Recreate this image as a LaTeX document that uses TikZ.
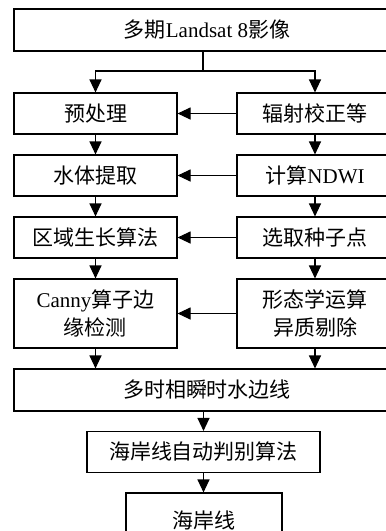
\documentclass[tikz,border=0pt]{standalone}
\usepackage{fontspec}
\setmainfont{Liberation Serif}
\newfontfamily\cjk{Noto Sans CJK SC}
\usetikzlibrary{arrows.meta}
\tikzset{
  box/.style={draw=black, line width=1.1pt, inner sep=0pt, align=center,
    font=\fontsize{21}{28}\selectfont\cjk},
  arr/.style={line width=1.1pt, -{Triangle[length=13pt,width=12pt]}},
  ln/.style={line width=1.1pt}
}
\begin{document}
\begin{tikzpicture}[x=1pt,y=-1pt]
\useasboundingbox (0,0) rectangle (386,531);
\clip (0,0) rectangle (386,531);
\node[box, minimum width=386pt, minimum height=42pt] (top) at (207,30) {多期{\rmfamily Landsat 8}影像};
\node[box, minimum width=163pt, minimum height=41pt] (l1) at (95.5,113.5) {预处理};
\node[box, minimum width=156pt, minimum height=41pt] (r1) at (315,113.5) {辐射校正等};
\node[box, minimum width=163pt, minimum height=41pt] (l2) at (95.5,175.5) {水体提取};
\node[box, minimum width=156pt, minimum height=41pt] (r2) at (315,175.5) {计算{\rmfamily NDWI}};
\node[box, minimum width=163pt, minimum height=41pt] (l3) at (95.5,237.5) {区域生长算法};
\node[box, minimum width=156pt, minimum height=41pt] (r3) at (315,237.5) {选取种子点};
\node[box, minimum width=163pt, minimum height=69pt] (l4) at (95.5,313.5) {{\rmfamily Canny}算子边\\缘检测};
\node[box, minimum width=156pt, minimum height=69pt] (r4) at (315,313.5) {形态学运算\\异质剔除};
\node[box, minimum width=386pt, minimum height=42pt] (multi) at (207,390) {多时相瞬时水边线};
\node[box, minimum width=233pt, minimum height=41pt] (auto) at (203.5,452) {海岸线自动判别算法};
\node[box, minimum width=156pt, minimum height=54pt] (coast) at (204,520) {海岸线};
\coordinate (split) at (203,71);
\draw[ln] (top.south -| split) -- (split);
\draw[arr] (split) -| (l1.north);
\draw[arr] (split) -| (r1.north);
\draw[arr] (r1.west) -- (l1.east);
\draw[arr] (r2.west) -- (l2.east);
\draw[arr] (r3.west) -- (l3.east);
\draw[arr] (r4.west) -- (l4.east);
\draw[arr] (l1.south) -- (l2.north);
\draw[arr] (l2.south) -- (l3.north);
\draw[arr] (l3.south) -- (l4.north);
\draw[arr] (r1.south) -- (r2.north);
\draw[arr] (r2.south) -- (r3.north);
\draw[arr] (r3.south) -- (r4.north);
\draw[arr] (l4.south) -- (l4.south |- multi.north);
\draw[arr] (r4.south) -- (r4.south |- multi.north);
\draw[arr] (multi.south -| auto) -- (auto.north);
\draw[arr] (auto.south) -- (auto.south |- coast.north);
\end{tikzpicture}
\end{document}
